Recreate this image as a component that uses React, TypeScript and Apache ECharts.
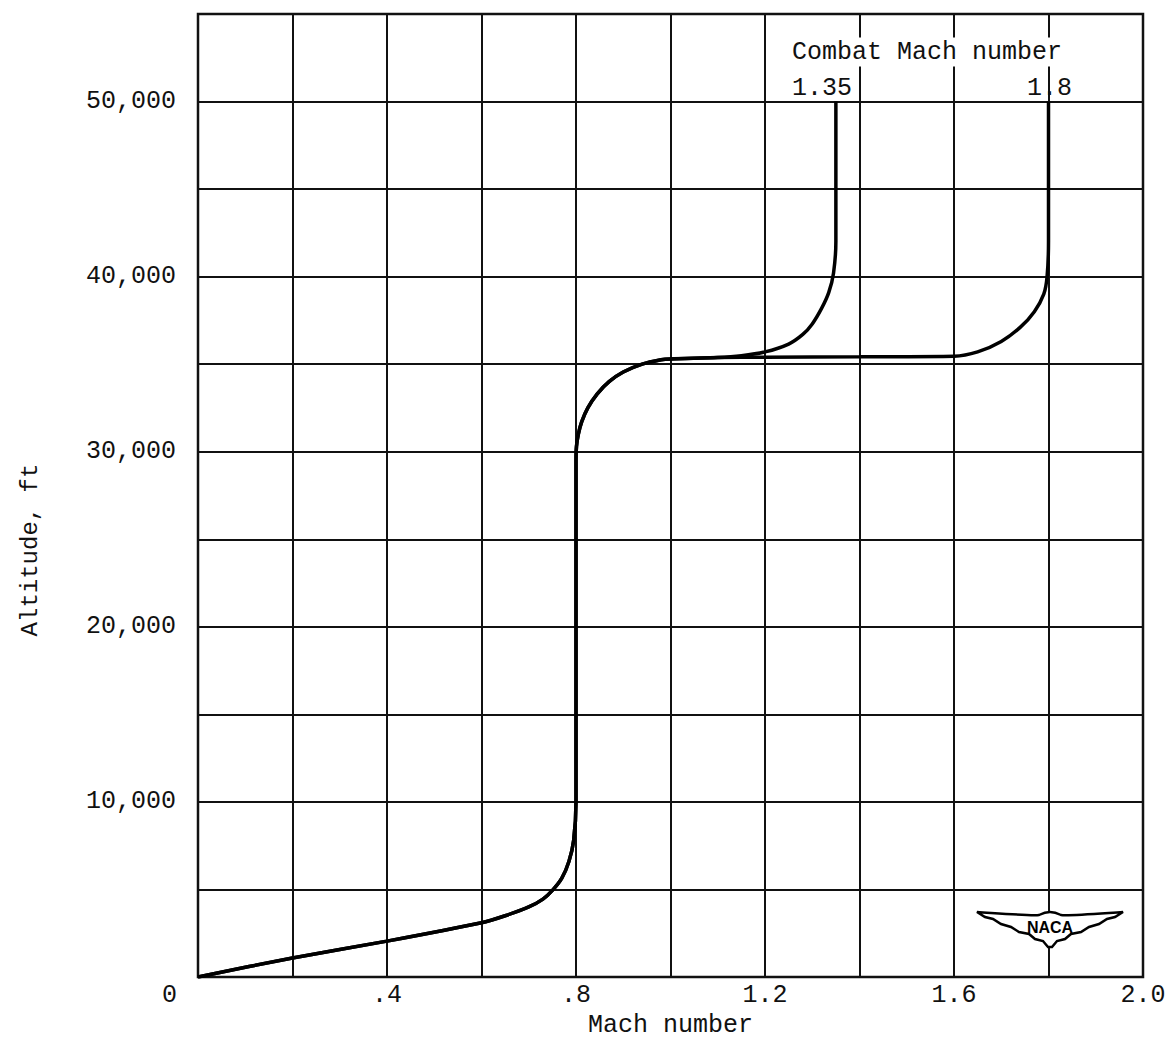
import React, { useEffect, useRef } from "react";
import * as echarts from "echarts";

// ---- data ----
const xTickValues = [0, 0.4, 0.8, 1.2, 1.6, 2.0];
const xTickLabels = ["0", ".4", ".8", "1.2", "1.6", "2.0"];
const yTickValues = [10000, 20000, 30000, 40000, 50000];
const yTickLabels = ["10,000", "20,000", "30,000", "40,000", "50,000"];

// common climb path (Mach, altitude ft)
const climbMach = [0, 0.2, 0.4, 0.6, 0.65, 0.7, 0.73, 0.75, 0.77, 0.785, 0.795, 0.8, 0.8, 0.801, 0.805, 0.812, 0.825, 0.845, 0.87, 0.9, 0.94, 0.98, 1.0, 1.1];
const climbAlt = [0, 1090, 2050, 3100, 3500, 4000, 4450, 4950, 5650, 6600, 7800, 10000, 29500, 30300, 31000, 31700, 32500, 33300, 34000, 34550, 35000, 35250, 35300, 35380];

// branch to combat Mach 1.35
const m135Mach = [1.15, 1.2, 1.25, 1.28, 1.3, 1.32, 1.335, 1.345, 1.35, 1.35];
const m135Alt = [35480, 35700, 36150, 36700, 37300, 38200, 39100, 40200, 42000, 50000];

// branch to combat Mach 1.8
const m18Mach = [1.2, 1.4, 1.6, 1.65, 1.7, 1.74, 1.77, 1.79, 1.797, 1.8, 1.8];
const m18Alt = [35400, 35420, 35450, 35700, 36300, 37100, 38000, 39000, 40000, 42000, 50000];

const FONT = "'Liberation Mono', 'DejaVu Sans Mono', monospace";
const INK = "#111";

const wingPath =
  "M0,0 C30,2 55,4 62,3 C66,1 70,0 73,0 C76,0 80,1 84,3 C91,4 116,2 146,0 " +
  "L138,5 L130,7 L122,12 L112,15 L104,20 L94,22 L88,27 L80,29 L75,35 L71,35 L66,29 L58,27 L52,22 L42,20 L34,15 L24,12 L16,7 L8,5 Z";
echarts.graphic.registerShape("nacaWings", echarts.graphic.extendPath(wingPath, {}) as any);

function pairs(xs: number[], ys: number[]) {
  return xs.map((x, i) => [x, ys[i]]);
}

export default function App() {
  const ref = useRef<HTMLDivElement>(null);
  useEffect(() => {
    if (!ref.current) return;
    const chart = echarts.init(ref.current, undefined, { renderer: "svg" });
    const common = pairs(climbMach, climbAlt);
    const option: any = {
      animation: false,
      backgroundColor: "#fff",
      grid: {
        left: 198,
        right: 28,
        top: 14,
        bottom: 62,
        show: true,
        borderColor: INK,
        borderWidth: 2.5,
        containLabel: false,
        outerBoundsMode: "none",
      },
      xAxis: {
        type: "value",
        min: 0,
        max: 2,
        interval: 0.2,
        name: "Mach number",
        nameLocation: "middle",
        nameGap: 28,
        nameTextStyle: { fontFamily: FONT, fontSize: 25, color: INK },
        axisLine: { show: false },
        axisTick: { show: false },
        splitLine: { show: true, lineStyle: { color: INK, width: 2 } },
        axisLabel: {
          fontFamily: FONT,
          fontSize: 25,
          color: INK,
          margin: 6,
          showMinLabel: true,
          showMaxLabel: true,
          formatter: (v: number) => {
            const i = xTickValues.findIndex((t) => Math.abs(t - v) < 1e-6);
            return i > 0 ? xTickLabels[i] : "";
          },
        },
      },
      yAxis: {
        type: "value",
        min: 0,
        max: 55000,
        interval: 5000,
        axisLine: { show: false },
        axisTick: { show: false },
        splitLine: { show: true, lineStyle: { color: INK, width: 2 } },
        axisLabel: {
          fontFamily: FONT,
          fontSize: 25,
          color: INK,
          margin: 22,
          formatter: (v: number) => {
            const i = yTickValues.findIndex((t) => Math.abs(t - v) < 1e-6);
            return i >= 0 ? yTickLabels[i] : "";
          },
        },
      },
      series: [
        {
          name: "Combat Mach 1.35",
          type: "line",
          data: common.concat(pairs(m135Mach, m135Alt)),
          showSymbol: false,
          smooth: 0.25,
          lineStyle: { color: "#000", width: 3.5 },
          z: 5,
        },
        {
          name: "Combat Mach 1.8",
          type: "line",
          data: common.concat(pairs(m18Mach, m18Alt)),
          showSymbol: false,
          smooth: 0.25,
          lineStyle: { color: "#000", width: 3.5 },
          z: 5,
        },
      ],
      graphic: [
        {
          type: "text",
          left: 170 - 8,
          top: 983,
          style: { text: "0", font: `25px ${FONT}`, fill: INK },
        },
        {
          type: "text",
          x: 30,
          y: 550,
          rotation: Math.PI / 2,
          style: {
            text: "Altitude, ft",
            font: `24px ${FONT}`,
            fill: INK,
            align: "center",
            verticalAlign: "middle",
          },
        },
        {
          type: "text",
          x: 792,
          y: 52,
          z: 10,
          style: {
            text: "Combat Mach number",
            font: `25px ${FONT}`,
            fill: INK,
            align: "left",
            verticalAlign: "middle",
            backgroundColor: "#fff",
            padding: [2, 0, 2, 0],
          },
        },
        {
          type: "text",
          x: 792,
          y: 88,
          z: 10,
          style: {
            text: "1.35",
            font: `25px ${FONT}`,
            fill: INK,
            align: "left",
            verticalAlign: "middle",
            backgroundColor: "#fff",
          },
        },
        {
          type: "text",
          x: 1027,
          y: 88,
          z: 10,
          style: {
            text: "1.8",
            font: `25px ${FONT}`,
            fill: INK,
            align: "left",
            verticalAlign: "middle",
          },
        },
        {
          type: "nacaWings",
          x: 977,
          y: 912,
          z: 10,
          style: { fill: "#fff", stroke: "#000", lineWidth: 2.5 },
        },
        {
          type: "text",
          x: 1050,
          y: 927,
          z: 11,
          style: {
            text: "NACA",
            font: `bold 16px 'Liberation Sans', sans-serif`,
            fill: "#000",
            align: "center",
            verticalAlign: "middle",
          },
        },
      ],
    };
    chart.setOption(option);
    return () => chart.dispose();
  }, []);
  return (
    <div
      ref={ref}
      style={{ position: "fixed", left: 0, top: 0, width: 1171, height: 1039 }}
    />
  );
}
